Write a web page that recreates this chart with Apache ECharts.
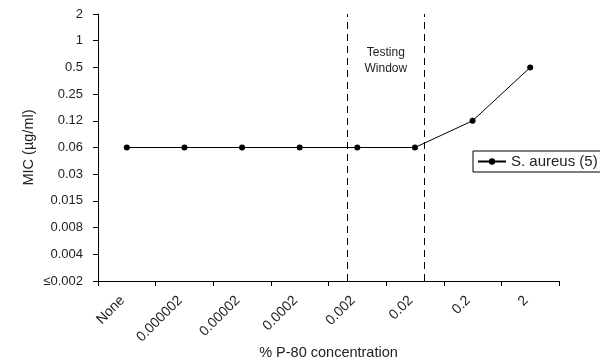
<!DOCTYPE html>
<html><head><meta charset="utf-8">
<script src="https://cdn.jsdelivr.net/npm/echarts@6/dist/echarts.min.js"></script>
<style>html,body{margin:0;padding:0;background:#fff}#c{width:600px;height:357px}</style>
</head><body><div id="c"></div>
<script>
const categories = ['None','0.000002','0.00002','0.0002','0.002','0.02','0.2','2'];
const yLevels = ['≤0.002','0.004','0.008','0.015','0.03','0.06','0.12','0.25','0.5','1','2'];
const micValues = ['0.06','0.06','0.06','0.06','0.06','0.06','0.12','0.5'];
const windowBounds = [4.33, 5.66];
const seriesName = 'S. aureus (5)';

const font = 'Liberation Sans, Arial, sans-serif';
const chart = echarts.init(document.getElementById('c'));
chart.setOption({
  animation: false,
  textStyle: {fontFamily: font},
  grid: {left: 98, right: 41, top: 14, bottom: 76, containLabel: false, outerBoundsMode: 'none'},
  xAxis: [{
    type: 'category', data: categories, boundaryGap: true,
    name: '% P-80 concentration', nameLocation: 'middle', nameGap: 64, nameMoveOverlap: false,
    nameTextStyle: {fontSize: 14.5, color: '#222', fontFamily: font},
    axisLine: {lineStyle: {color: '#000', width: 1}},
    axisTick: {show: true, length: 5, lineStyle: {color: '#000'}},
    axisLabel: {rotate: 45, fontSize: 14, color: '#222', margin: 13, padding: [0, 6, 0, 0], interval: 0}
  }, {
    type: 'value', min: 0, max: 8, show: false
  }],
  yAxis: {
    type: 'category', data: yLevels, boundaryGap: false,
    name: 'MIC (µg/ml)', nameLocation: 'middle', nameGap: 62, nameRotate: 90, nameMoveOverlap: false,
    nameTextStyle: {fontSize: 14.5, color: '#222', fontFamily: font},
    axisLine: {lineStyle: {color: '#000', width: 1}},
    axisTick: {show: true, length: 5, lineStyle: {color: '#000'}},
    axisLabel: {fontSize: 13, color: '#222', margin: 15, interval: 0},
    splitLine: {show: false}
  },
  legend: {
    left: 473, top: 151, data: [seriesName],
    borderColor: '#000', borderWidth: 1, borderRadius: 0,
    padding: [3, 8, 3, 4], itemWidth: 28, itemHeight: 8, itemGap: 4,
    textStyle: {fontSize: 15, color: '#222', fontFamily: font}
  },
  series: [{
    name: seriesName, type: 'line',
    data: categories.map((c, i) => [c, micValues[i]]),
    symbol: 'circle', symbolSize: 6,
    lineStyle: {color: '#000', width: 1},
    itemStyle: {color: '#000'}
  }, {
    name: 'window', type: 'line', xAxisIndex: 1, data: [],
    markLine: {
      silent: true, symbol: 'none',
      lineStyle: {color: '#000', type: [7, 5], width: 1},
      label: {show: false},
      data: windowBounds.map(v => ({xAxis: v}))
    },
    markArea: {
      silent: true,
      itemStyle: {color: 'rgba(0,0,0,0)'},
      label: {show: true, position: 'insideTop', distance: 31, formatter: 'Testing\nWindow',
        fontSize: 12, color: '#222', lineHeight: 16, fontFamily: font},
      data: [[{xAxis: windowBounds[0]}, {xAxis: windowBounds[1]}]]
    }
  }]
});
</script></body></html>
